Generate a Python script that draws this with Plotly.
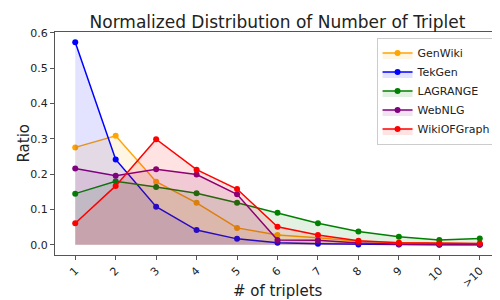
import plotly.graph_objects as go

categories = ["1", "2", "3", "4", "5", "6", "7", "8", "9", "10", ">10"]
genwiki = [0.276, 0.309, 0.179, 0.119, 0.048, 0.028, 0.020, 0.010, 0.006, 0.004, 0.003]
tekgen = [0.574, 0.242, 0.108, 0.042, 0.017, 0.006, 0.003, 0.001, 0.001, 0.000, 0.000]
lagrange = [0.145, 0.180, 0.164, 0.146, 0.119, 0.091, 0.061, 0.038, 0.023, 0.014, 0.018]
webnlg = [0.216, 0.196, 0.214, 0.199, 0.143, 0.014, 0.013, 0.005, 0.002, 0.001, 0.001]
wikiofgraph = [0.061, 0.167, 0.299, 0.213, 0.158, 0.051, 0.028, 0.012, 0.006, 0.004, 0.004]

series = [
    ("GenWiki", genwiki, (255, 165, 0)),
    ("TekGen", tekgen, (0, 0, 255)),
    ("LAGRANGE", lagrange, (0, 128, 0)),
    ("WebNLG", webnlg, (128, 0, 128)),
    ("WikiOFGraph", wikiofgraph, (255, 0, 0)),
]

xidx = list(range(len(categories)))
fig = go.Figure()
for name, vals, (r, g, b) in series:
    fig.add_trace(go.Scatter(
        x=xidx, y=vals, name=name, mode="lines+markers",
        line=dict(color=f"rgb({r},{g},{b})", width=1.5),
        marker=dict(color=f"rgb({r},{g},{b})", size=6),
        fill="tozeroy", fillcolor=f"rgba({r},{g},{b},0.11)",
    ))

axis_common = dict(
    showline=True, linecolor="#555", linewidth=1, mirror=True,
    ticks="outside", ticklen=4, tickcolor="#555", showgrid=False, zeroline=False,
    tickfont=dict(family="DejaVu Sans", size=11, color="#222"), automargin=False,
)
fig.update_layout(
    width=500, height=300,
    margin=dict(l=47, r=8, t=24, b=53),
    plot_bgcolor="white", paper_bgcolor="white",
    font=dict(family="DejaVu Sans", color="#222"),
    title=dict(text="Normalized Distribution of Number of Triplet", x=0.539, xanchor="center",
               y=0.953, yanchor="middle", font=dict(size=17, family="DejaVu Sans", color="#222")),
    xaxis=dict(**axis_common, range=[-0.5, 10.5], tickmode="array", tickvals=xidx,
               ticktext=categories, tickangle=-45),
    yaxis=dict(**axis_common, range=[-0.0287, 0.6027], tickvals=[0, 0.1, 0.2, 0.3, 0.4, 0.5, 0.6],
               tickformat=".1f"),
    legend=dict(x=0.99, y=0.975, xanchor="right", yanchor="top", bgcolor="white",
                bordercolor="#ccc", borderwidth=1, font=dict(size=11, family="DejaVu Sans"),
                tracegroupgap=0),
    annotations=[
        dict(text="# of triplets", xref="paper", yref="paper", x=0.5, y=0.0, xanchor="center",
             yanchor="middle", yshift=-36, showarrow=False, font=dict(size=15)),
        dict(text="Ratio", xref="paper", yref="paper", x=0, y=0.5, xanchor="center",
             yanchor="middle", xshift=-32, textangle=-90, showarrow=False, font=dict(size=15)),
    ],
)
fig.write_html("out.html")
